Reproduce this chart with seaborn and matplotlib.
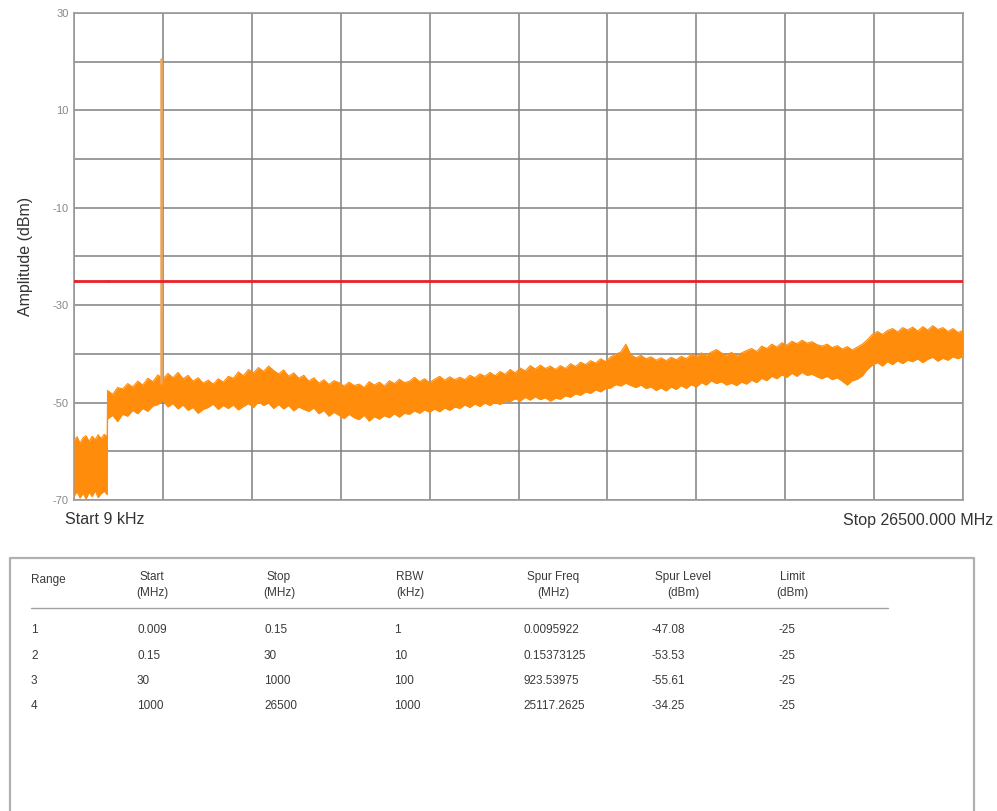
#!/usr/bin/env python3
"""
Spurious emissions sweep, 9 kHz - 26.5 GHz, with limit line and spur table
"""
import matplotlib
matplotlib.use('Agg')
import matplotlib.pyplot as plt
import numpy as np
import seaborn as sns

sns.set_style("white")
plt.rcParams['font.family'] = ['Liberation Sans', 'DejaVu Sans']
plt.rcParams['axes.unicode_minus'] = False

# --- trace envelope (max / min of the noisy trace), dBm ---
# ranges 1-3: 9 kHz .. 1000 MHz
low_freq = [0.009, 90, 180, 270, 360, 450, 540, 630, 720, 810, 900, 990]
low_upper = [-57.8, -57.0, -58.3, -57.2, -56.8, -58.0, -56.9, -57.6, -56.6, -57.4, -56.5, -57.0]
low_lower = [-69.2, -68.3, -69.6, -68.6, -69.8, -68.4, -69.3, -68.1, -69.5, -68.7, -68.2, -68.9]

# range 4: 1000 .. 26500 MHz, one bin every 150 MHz
main_freq = np.linspace(1000, 26500, 171)
main_upper = [
    -47.5, -48.3, -46.9, -47.2, -46.1, -46.8, -45.6, -46.4, -45.0, -45.7,
    -44.3, -45.2, -44.0, -44.9, -43.8, -45.1, -44.4, -45.6, -44.9, -46.0,
    -45.4, -46.2, -45.1, -45.8, -44.6, -45.0, -43.7, -44.5, -43.2, -43.9,
    -42.8, -43.6, -42.5, -43.4, -44.1, -43.3, -44.6, -43.9, -45.0, -44.4,
    -45.6, -44.9, -46.0, -45.3, -46.3, -45.5, -45.9, -46.6, -45.8, -46.5,
    -46.2, -46.9, -45.7, -46.4, -45.8, -46.6, -45.5, -46.1, -45.2, -45.9,
    -45.6, -44.8, -45.7, -45.1, -45.9, -45.2, -44.6, -45.4, -44.7, -45.3,
    -44.8, -45.3, -44.4, -44.9, -44.1, -44.6, -43.8, -44.5, -43.6, -44.2,
    -43.2, -43.9, -42.9, -43.5, -42.4, -43.1, -42.3, -43.0, -42.5, -43.2,
    -42.4, -43.0, -42.0, -42.6, -41.7, -42.2, -41.4, -41.9, -41.0, -41.6,
    -40.6, -40.1, -39.6, -38.0, -40.2, -40.8, -40.3, -41.0, -40.6, -41.3,
    -40.8, -41.4, -40.7, -41.2, -40.5, -41.0, -40.1, -40.6, -39.8, -40.3,
    -39.6, -39.1, -39.8, -40.3, -39.7, -40.4, -39.8, -39.3, -38.9, -39.5,
    -38.4, -38.9, -38.0, -38.6, -37.7, -38.2, -37.4, -37.9, -37.2, -37.8,
    -37.5, -38.1, -38.4, -38.0, -38.7, -38.3, -39.0, -38.5, -39.2, -38.6,
    -38.0, -37.1, -36.0, -35.4, -36.0, -35.2, -34.8, -35.5, -34.6, -35.1,
    -34.5, -35.3, -34.4, -35.1, -34.2, -35.0, -34.6, -35.4, -34.8, -35.6, -35.2,
]
main_lower = [
    -53.4, -52.6, -53.9, -52.4, -52.8, -51.6, -52.3, -51.2, -51.8, -50.7,
    -50.4, -49.6, -50.9, -50.2, -51.3, -50.5, -51.6, -51.0, -52.2, -51.4,
    -51.0, -50.3, -51.4, -50.6, -51.2, -50.5, -51.5, -50.8, -50.2, -51.0,
    -49.8, -50.6, -50.1, -51.2, -50.4, -51.3, -50.6, -51.7, -50.9, -51.4,
    -51.8, -51.1, -52.3, -51.6, -52.8, -52.0, -52.6, -53.3, -52.4, -53.1,
    -53.5, -52.6, -53.8, -52.9, -53.4, -52.7, -53.1, -52.3, -53.0, -52.2,
    -52.4, -51.7, -52.2, -51.5, -52.0, -51.3, -51.9, -51.1, -51.6, -50.9,
    -51.2, -50.5, -51.0, -50.3, -50.8, -50.1, -50.6, -49.9, -50.4, -49.7,
    -49.8, -49.2, -49.7, -48.9, -49.5, -48.8, -49.4, -49.0, -49.7, -49.1,
    -49.3, -48.6, -48.9, -48.2, -48.5, -47.8, -48.1, -47.4, -47.8, -47.1,
    -47.0, -46.3, -46.6, -46.0, -46.5, -46.9, -46.4, -47.1, -46.8, -47.5,
    -47.0, -47.6, -46.8, -47.3, -46.5, -47.1, -46.3, -46.8, -45.9, -46.4,
    -45.5, -46.1, -45.7, -46.4, -46.0, -46.5, -45.8, -46.2, -45.4, -45.9,
    -45.0, -45.5, -44.6, -45.1, -44.3, -44.8, -44.0, -44.6, -43.8, -44.4,
    -44.2, -44.7, -45.1, -44.6, -45.3, -44.9, -45.6, -46.4, -45.5, -45.2,
    -44.5, -43.2, -42.3, -41.8, -42.5, -41.6, -42.2, -41.4, -42.0, -41.3,
    -41.6, -41.0, -41.8, -41.1, -40.7, -41.5, -40.9, -41.3, -40.6, -41.0, -40.5,
]

# carrier spike
spike_freq = [2590, 2590]
spike_level = [-46.0, 20.5]

# --- spur table ---
table_ranges = ['1', '2', '3', '4']
start_mhz = ['0.009', '0.15', '30', '1000']
stop_mhz = ['0.15', '30', '1000', '26500']
rbw_khz = ['1', '10', '100', '1000']
spur_freq = ['0.0095922', '0.15373125', '923.53975', '25117.2625']
spur_level = ['-47.08', '-53.53', '-55.61', '-34.25']
limit_dbm = ['-25', '-25', '-25', '-25']

freq = np.concatenate([low_freq, main_freq])
upper = np.concatenate([low_upper, main_upper])
lower = np.concatenate([low_lower, main_lower])

W, H = 997, 811
fig = plt.figure(figsize=(W / 100, H / 100), dpi=100)
ax = fig.add_axes([74 / W, 1 - 500 / H, (963 - 74) / W, (500 - 13) / H])

trace_col = '#FF8C0A'
ax.fill_between(freq, lower, upper, color=trace_col, linewidth=0, zorder=3)
sns.lineplot(x=freq, y=upper, ax=ax, color=trace_col, linewidth=0.8,
             estimator=None, sort=False, zorder=3)
sns.lineplot(x=freq, y=lower, ax=ax, color=trace_col, linewidth=0.8,
             estimator=None, sort=False, zorder=3)
sns.lineplot(x=spike_freq, y=spike_level, ax=ax, color='#F2A556', linewidth=1.8,
             estimator=None, sort=False, zorder=3)

# limit line, one segment per range
for s, e, lim in zip(start_mhz, stop_mhz, limit_dbm):
    sns.lineplot(x=[float(s), float(e)], y=[float(lim), float(lim)], ax=ax,
                 color='#E8202A', linewidth=2, estimator=None, sort=False, zorder=4)

ax.set_xlim(0.009, 26500)
ax.set_ylim(-70, 30)
ax.set_xticks(np.linspace(0.009, 26500, 11))
ax.set_xticklabels([])
ax.set_yticks(np.arange(-70, 31, 20))
ax.set_yticks(np.arange(-60, 21, 20), minor=True)
ax.tick_params(axis='x', length=0)
ax.tick_params(axis='y', which='major', length=3, color='#999999',
               labelsize=8, labelcolor='#888888', pad=1)
ax.tick_params(axis='y', which='minor', length=0)
ax.grid(True, which='both', color='#808080', linewidth=1.1, zorder=1)
ax.set_axisbelow(True)
for sp in ax.spines.values():
    sp.set_color('#9a9a9a')
    sp.set_linewidth(1.2)
ax.set_ylabel('Amplitude (dBm)', fontsize=11.5, color='#333333', labelpad=14)

fig.text(65 / W, 1 - 520 / H, 'Start 9 kHz', fontsize=11.5, color='#333333',
         ha='left', va='center')
fig.text(993 / W, 1 - 520 / H, 'Stop 26500.000 MHz', fontsize=11.5, color='#333333',
         ha='right', va='center')

# table drawn on a pixel-coordinate overlay
tab = fig.add_axes([0, 0, 1, 1], facecolor='none')
tab.set_xlim(0, W)
tab.set_ylim(H, 0)
tab.axis('off')
tab.plot([10, 10, 974, 974], [815, 558, 558, 815], color='#b0b0b0', linewidth=1.6)
tab.plot([31, 888], [608, 608], color='#a0a0a0', linewidth=1)

tfs = 8.5
tcol = '#3a3a3a'
tab.text(31, 580, 'Range', fontsize=tfs, color=tcol, ha='left', va='center')
headers = ['Start\n(MHz)', 'Stop\n(MHz)', 'RBW\n(kHz)', 'Spur Freq\n(MHz)',
           'Spur Level\n(dBm)', 'Limit\n(dBm)']
header_x = [152, 279, 410, 553, 683, 792]
for hx, h in zip(header_x, headers):
    tab.text(hx, 585, h, fontsize=tfs, color=tcol, ha='center', va='center',
             multialignment='center', linespacing=1.35)

col_x = [31, 137, 264, 394, 523, 651, 778]
row_y = [630, 656, 681, 706]
columns = [table_ranges, start_mhz, stop_mhz, rbw_khz, spur_freq, spur_level, limit_dbm]
for cx, col in zip(col_x, columns):
    for ry, val in zip(row_y, col):
        tab.text(cx, ry, val, fontsize=tfs, color=tcol, ha='left', va='center')

fig.savefig('out.png', dpi=100)
